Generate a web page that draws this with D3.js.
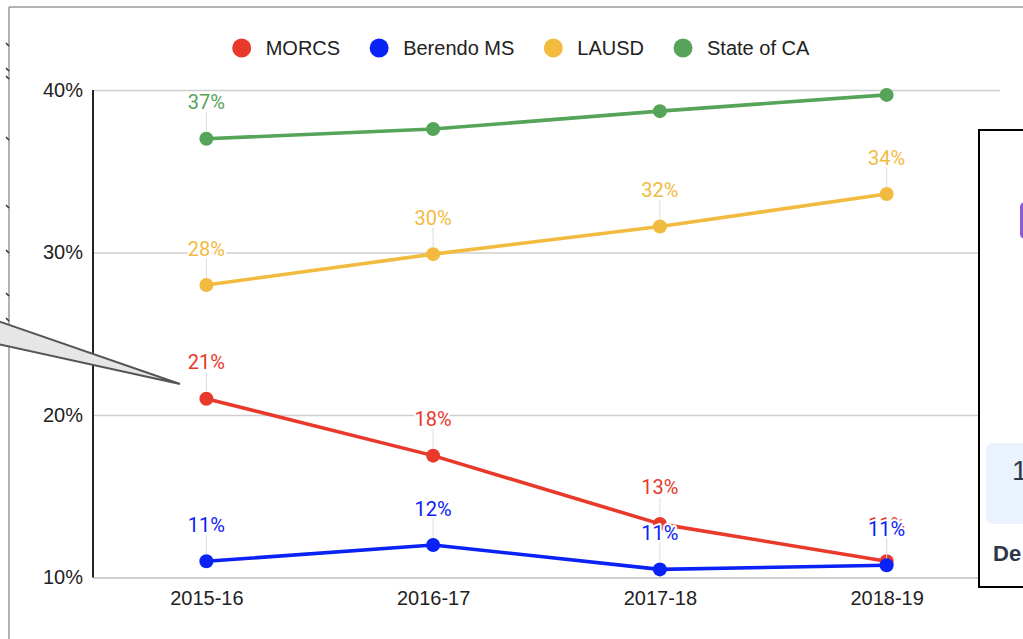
<!DOCTYPE html>
<html>
<head>
<meta charset="utf-8">
<script src="https://cdn.jsdelivr.net/npm/d3@7"></script>
<style>
    body { margin: 0; background: #fff; }
    svg { display: block; }
    .axis text { font-family: "Liberation Sans", Arial, sans-serif; font-size: 20px; fill: #222; }
    .legend text { font-family: "Liberation Sans", Arial, sans-serif; font-size: 20px; fill: #222; }
    .anno { font-family: Roboto, "Noto Sans", sans-serif; font-size: 20px; }
</style>
</head>
<body>
<div id="chart"></div>
<script>
"use strict";

const years = ["2015-16", "2016-17", "2017-18", "2018-19"];
const seriesNames = ["MORCS", "Berendo MS", "LAUSD", "State of CA"];
const morcs = [21.0, 17.5, 13.3, 11.0];
const berendo = [11.0, 12.0, 10.5, 10.75];
const lausd = [28.0, 29.9, 31.6, 33.6];
const stateCA = [37.0, 37.6, 38.7, 39.7];
const yTicks = [10, 20, 30, 40];

const colors = ["#e8392b", "#0a22f5", "#f2bb3f", "#55a459"];
const seriesValues = [morcs, berendo, lausd, stateCA];

const W = 1023, H = 639;
const plot = {left: 93, right: 1000, top: 90, bottom: 577.5};

const svg = d3.select("#chart").append("svg")
    .attr("width", W).attr("height", H);

// slide frame edge on the left / top
svg.append("line").attr("x1", 9).attr("x2", W).attr("y1", 7).attr("y2", 7)
    .attr("stroke", "#9a9a9a").attr("stroke-width", 1.5);
svg.append("line").attr("x1", 9).attr("x2", 9).attr("y1", 7).attr("y2", H)
    .attr("stroke", "#9a9a9a").attr("stroke-width", 1.5);
[43, 68, 76, 137, 205, 250, 293, 318].forEach(yy => {
    svg.append("line").attr("x1", 6).attr("x2", 9).attr("y1", yy).attr("y2", yy + 3)
        .attr("stroke", "#333").attr("stroke-width", 1.5);
});

const x = d3.scalePoint().domain(years).range([plot.left, plot.right]).padding(0.5);
const y = d3.scaleLinear().domain([10, 40]).range([plot.bottom, plot.top]);

// y axis + gridlines
const yAxis = svg.append("g").attr("class", "axis")
    .attr("transform", `translate(${plot.left},0)`)
    .call(d3.axisLeft(y).tickValues(yTicks).tickFormat(d => d + "%")
        .tickSize(-(plot.right - plot.left)).tickPadding(10));
yAxis.select(".domain").remove();
yAxis.selectAll(".tick line").attr("stroke", "#cfcfcf").attr("stroke-width", 1.5);
yAxis.selectAll(".tick").filter(d => d === yTicks[0]).select("line").attr("stroke-width", 2);

// x axis
const xAxis = svg.append("g").attr("class", "axis")
    .attr("transform", `translate(0,${plot.bottom})`)
    .call(d3.axisBottom(x).tickSize(0).tickPadding(13));
xAxis.select(".domain").remove();

// left black axis line
svg.append("line").attr("x1", plot.left).attr("x2", plot.left)
    .attr("y1", plot.top).attr("y2", plot.bottom)
    .attr("stroke", "#222").attr("stroke-width", 2);

const series = seriesNames.map((name, i) => ({
    name: name,
    color: colors[i],
    points: years.map((yr, j) => ({year: yr, value: seriesValues[i][j]}))
}));

const line = d3.line().x(d => x(d.year)).y(d => y(d.value));

series.forEach(s => {
    svg.append("path").datum(s.points)
        .attr("d", line).attr("fill", "none")
        .attr("stroke", s.color).attr("stroke-width", 3.6)
        .attr("stroke-linejoin", "round");
    svg.selectAll(null).data(s.points).enter().append("circle")
        .attr("cx", d => x(d.year)).attr("cy", d => y(d.value))
        .attr("r", 7).attr("fill", s.color);
});

// annotations (stems + labels), hidden when they would leave the plot
const annoOffset = 29.5;
const visible = d => y(d.value) - annoOffset - 14 >= plot.top;
series.forEach(s => {
    svg.selectAll(null).data(s.points.filter(visible)).enter().append("line")
        .attr("x1", d => x(d.year)).attr("x2", d => x(d.year))
        .attr("y1", d => y(d.value) - annoOffset + 3).attr("y2", d => y(d.value) - 7)
        .attr("stroke", "#dcdcdc").attr("stroke-width", 1);
});
series.forEach(s => {
    svg.selectAll(null).data(s.points.filter(visible)).enter().append("text")
        .attr("class", "anno")
        .attr("x", d => x(d.year)).attr("y", d => y(d.value) - annoOffset)
        .attr("text-anchor", "middle")
        .attr("fill", s.color)
        .attr("stroke", "#fff").attr("stroke-width", 4)
        .attr("stroke-linejoin", "round").attr("paint-order", "stroke")
        .text(d => Math.round(d.value) + "%");
});

// legend
const legend = svg.append("g").attr("class", "legend");
let lx = 241.7;
series.forEach(s => {
    legend.append("circle").attr("cx", lx).attr("cy", 48).attr("r", 9.5).attr("fill", s.color);
    const t = legend.append("text").attr("x", lx + 24).attr("y", 48).attr("dy", "0.35em").text(s.name);
    lx += 24 + t.node().getComputedTextLength() + 39;
});

// callout tail coming in from the left
svg.append("polygon")
    .attr("points", "-5,320 180,384 -5,343.5")
    .attr("fill", "#e6e6e6").attr("stroke", "#555").attr("stroke-width", 2)
    .attr("stroke-linejoin", "miter");

// panel on the right edge
const panel = svg.append("g");
panel.append("rect").attr("x", 979).attr("y", 130).attr("width", 60).attr("height", 457)
    .attr("fill", "#fff").attr("stroke", "#000").attr("stroke-width", 2);
panel.append("rect").attr("x", 1020).attr("y", 202).attr("width", 30).attr("height", 37)
    .attr("rx", 5).attr("fill", "#8c5bd6");
panel.append("rect").attr("x", 986).attr("y", 443).attr("width", 60).attr("height", 81)
    .attr("rx", 7).attr("fill", "#eaf3fd");
panel.append("text").attr("x", 1012).attr("y", 480)
    .style("font-family", "'Liberation Sans', Arial, sans-serif").style("font-size", "28px")
    .attr("fill", "#2d3748").text("1");
panel.append("text").attr("x", 993).attr("y", 561)
    .style("font-family", "'Liberation Sans', Arial, sans-serif").style("font-size", "22px")
    .style("font-weight", "bold").attr("fill", "#2d3748").text("De");
</script>
</body>
</html>
